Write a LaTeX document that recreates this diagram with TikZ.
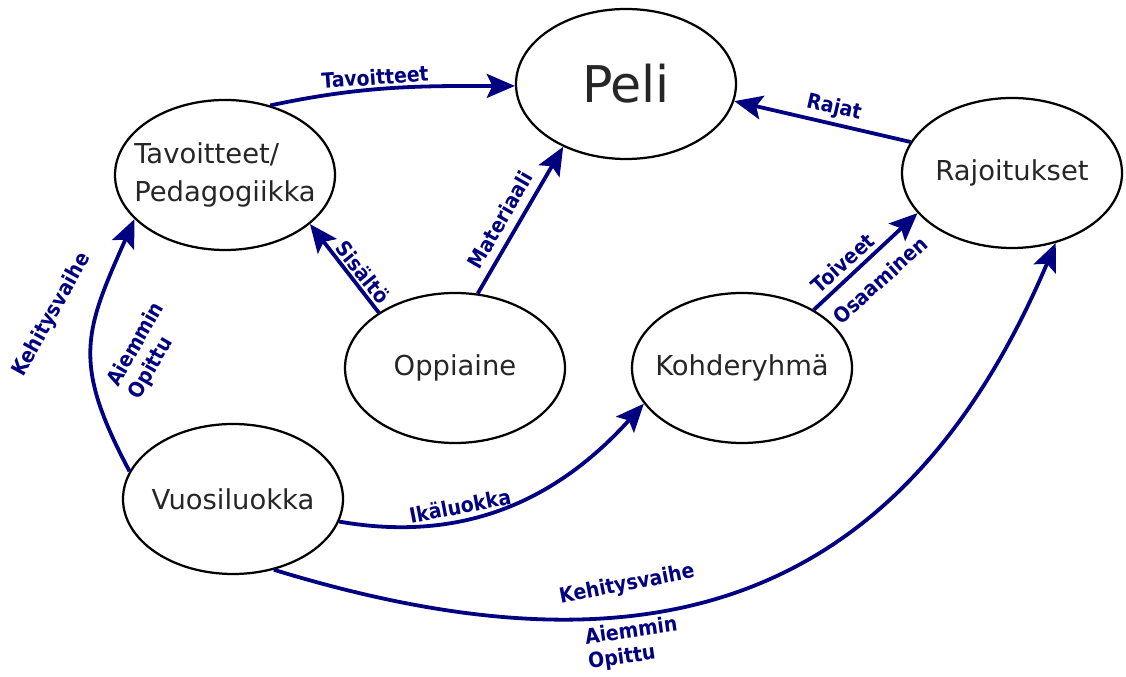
\documentclass[tikz,border=0pt]{standalone}
\usepackage{fontspec}
\setmainfont{DejaVu Sans}
\newfontfamily\labfont{DejaVu Sans Condensed}
\usepackage{tikz}
\usetikzlibrary{arrows.meta,shapes.geometric}

\definecolor{navy}{RGB}{0,0,128}

\tikzset{
	blob/.style={draw=black, line width=1.6pt, ellipse, minimum width=5.5cm, minimum height=3.75cm, inner sep=0pt},
	txt/.style={text=black!85, font=\fontsize{19.5}{27}\selectfont, align=left, inner sep=0pt},
	lab/.style={text=navy, font=\labfont\bfseries\fontsize{14.9}{17.5}\selectfont, align=left, inner sep=0pt},
	arr/.style={draw=navy, line width=2.7pt, -{Stealth[length=20pt,width=17pt,inset=4pt]}},
}

\begin{document}
\begin{tikzpicture}
		\useasboundingbox (0, 0) rectangle (28.15, 16.925);
\draw (15.65, 14.825) node[blob] (peli) {} node[txt, font=\fontsize{36}{40}\selectfont] (peliT) {Peli}; % Peli
\draw (5.625, 12.55) node[blob] (tav) {} node[txt] (tavT) {Tavoitteet/\\Pedagogiikka}; % Tavoitteet
\draw (25.3, 12.6) node[blob] (raj) {} node[txt] (rajT) {Rajoitukset}; % Rajoitukset
\draw (11.375, 7.725) node[blob] (opp) {} node[txt] (oppT) {Oppiaine}; % Oppiaine
\draw (18.55, 7.725) node[blob] (koh) {} node[txt] (kohT) {Kohderyhmä}; % Kohderyhma
\draw (5.825, 4.45) node[blob] (vuo) {} node[txt] (vuoT) {Vuosiluokka}; % Vuosiluokka

\draw [arr] (tav.57) to [out=12, in=180] (peli.181) ; % Tavoitteet
\draw [arr] (opp.144) to (tav.-30) ; % Sisalto
\draw [arr] (opp.73) to (peli.225) ; % Materiaali
\draw [arr] (raj.163) to (peli.-9) ; % Rajat
\draw [arr] (koh.39) to (raj.203) ; % Toiveet, Osaaminen
\draw [arr] (vuo.165) to [out=118, in=246, looseness=1.25] (tav.206) ; % Kehitysvaihe
\draw [arr] (vuo.-12) to [out=-10, in=228] (koh.200) ; % Ikaluokka
\draw [arr] (vuo.-60) to [out=-17, in=247, out looseness=1.1, in looseness=1.27] (raj.-58) ; % Kehitysvaihe

\draw (9.375, 15.0) node[lab, rotate=4] (LTav) {Tavoitteet};
\draw (9.075, 10.125) node[lab, rotate=-51] (LSis) {Sisältö};
\draw (12.5, 11.425) node[lab, rotate=60] (LMat) {Materiaali};
\draw (20.85, 14.225) node[lab, rotate=-13] (LRaj) {Rajat};
\draw (21.075, 10.35) node[lab, rotate=42] (LToi) {Toiveet};
\draw (22.0, 9.925) node[lab, rotate=42] (LOsa) {Osaaminen};

\draw (1.3, 9.05) node[lab, rotate=61] (LKeh1) {Kehitysvaihe};
\draw (3.675, 8.15) node[lab, rotate=60] (LAie1) {Aiemmin\\Opittu};
\draw (11.5, 4.275) node[lab, rotate=11] (LIka) {Ikäluokka};
\draw (15.675, 2.3) node[lab, rotate=11] (LKeh2) {Kehitysvaihe};
\draw (15.825, 0.825) node[lab, rotate=8] (LAie2) {Aiemmin\\Opittu};
		\end{tikzpicture}
\end{document}
